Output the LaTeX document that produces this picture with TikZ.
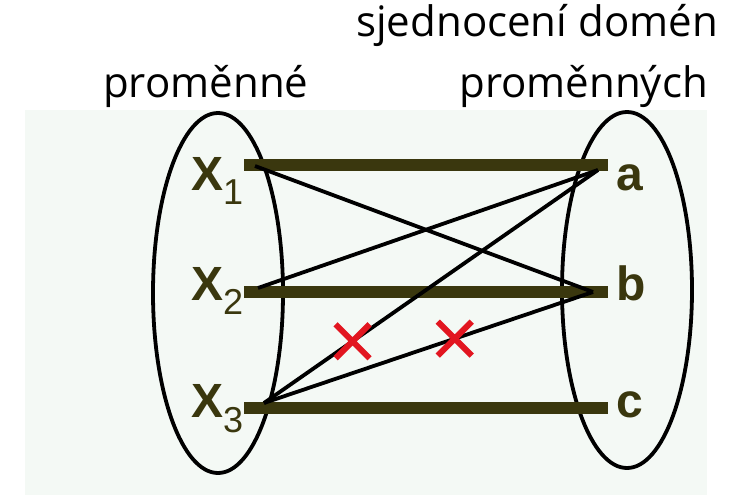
\documentclass[tikz,border=0pt]{standalone}
\usepackage{fontspec}
\setmainfont{Open Sans}
\newfontfamily\arialfont{Liberation Sans}
\usetikzlibrary{shapes.misc,shapes.geometric}
\definecolor{bgc}{RGB}{244,249,245}
\definecolor{barcol}{RGB}{58,55,14}
\definecolor{xred}{RGB}{226,22,32}
\newcommand\subfont{\mdseries\fontsize{36}{40}\selectfont}
\tikzset{
 title/.style={inner sep=0pt, font=\fontsize{42}{48}\selectfont},
 lab/.style={inner sep=0pt, text=barcol, font=\arialfont\bfseries\fontsize{48}{56}\selectfont},
 bar/.style={draw=barcol, line width=12pt},
 link/.style={draw=black, line width=3.8pt},
 setshape/.style={ellipse, draw=black, line width=3.8pt, inner sep=0pt},
 xmark/.style={cross out, draw=xred, line width=6pt, minimum size=34pt, inner sep=0pt, outer sep=0pt},
}
\begin{document}
\begin{tikzpicture}[x=1pt,y=-1pt]
\useasboundingbox (0,0) rectangle (746,495);
\fill[bgc] (25,110) rectangle (707,495);
\node[title, anchor=base east] (t1) at (718,37) {sjednocení domén};
\node[title, anchor=base west] (t2) at (103,97) {proměnné};
\node[title, anchor=base east] (t3) at (708,97) {proměnných};
\node[setshape, minimum width=130pt, minimum height=360pt] (lset) at (218,293) {};
\node[setshape, minimum width=130pt, minimum height=356pt] (rset) at (627,290) {};
\node[lab, anchor=base west] (x1) at (191,190) {X\raisebox{-14pt}{\subfont 1}};
\node[lab, anchor=base west] (x2) at (191,300) {X\raisebox{-14pt}{\subfont 2}};
\node[lab, anchor=base west] (x3) at (191,417) {X\raisebox{-15pt}{\subfont 3}};
\node[lab, anchor=base west] (a) at (616,190) {a};
\node[lab, anchor=base west] (b) at (616,300) {b};
\node[lab, anchor=base west] (c) at (616,417) {c};
\coordinate (x1e) at (244,165);
\coordinate (x2e) at (244,292);
\coordinate (x3e) at (244,408);
\coordinate (ae) at (608,165);
\coordinate (be) at (608,292);
\coordinate (ce) at (608,408);
\draw[bar] (x1e) -- (ae);
\draw[bar] (x2e) -- (be);
\draw[bar] (x3e) -- (ce);
\coordinate (x1p) at (255,166);
\coordinate (x2p) at (258,288);
\coordinate (x3p) at (264,403);
\coordinate (ap) at (598,170);
\coordinate (bp) at (593,292);
\draw[link] (x1p) -- (bp);
\draw[link] (x2p) -- (ap);
\draw[link] (x3p) -- node[xmark, pos=0.265] (k1) {} (ap);
\draw[link] (x3p) -- node[xmark, pos=0.58] (k2) {} (bp);
\end{tikzpicture}
\end{document}
